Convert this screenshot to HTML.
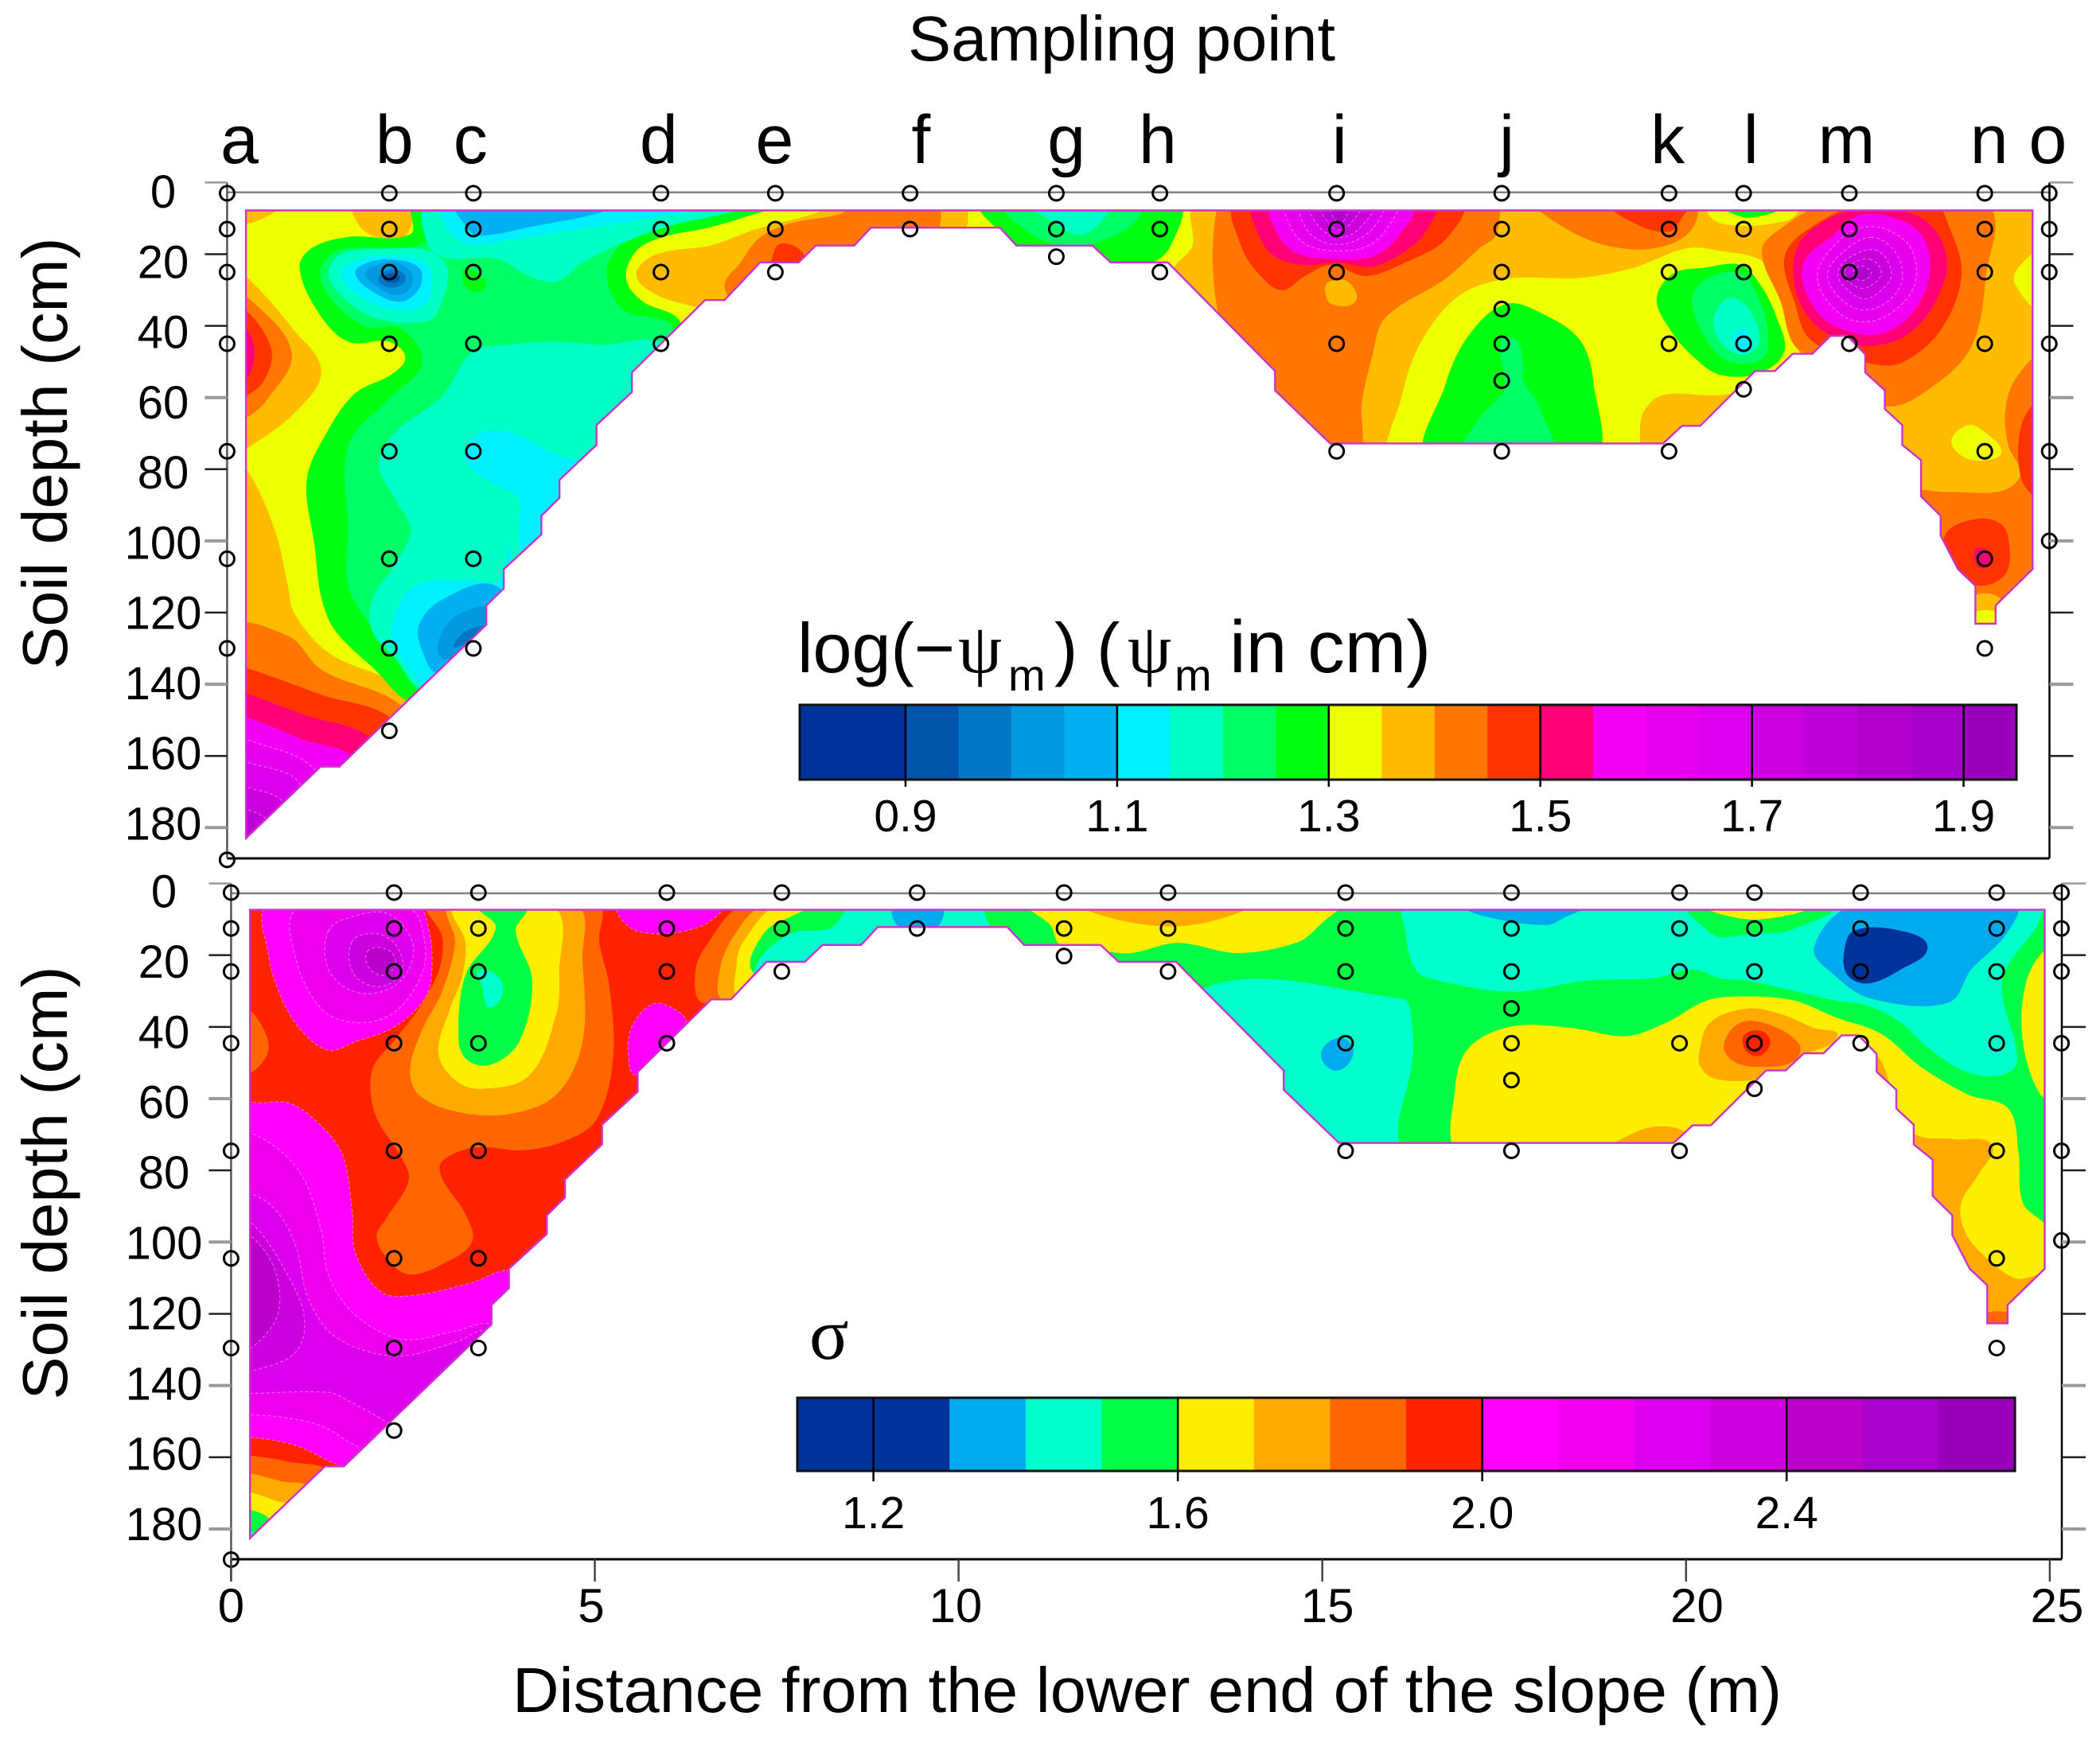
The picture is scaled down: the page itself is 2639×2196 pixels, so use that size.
<!DOCTYPE html>
<html lang="en">
<head>
<meta charset="utf-8">
<title>Soil matric potential and sigma contours along a slope</title>
<style>
html,body{margin:0;padding:0;background:#fff}
svg{display:block}
text{font-family:"Liberation Sans",sans-serif;fill:#000}
.serif{font-family:"Liberation Serif",serif}
</style>
</head>
<body>
<svg id="chart" xmlns="http://www.w3.org/2000/svg" width="2639" height="2196" viewBox="0 0 2639 2196">
  <rect width="2639" height="2196" fill="#fff"/>
  <text x="1141" y="76" font-size="80" textLength="537" lengthAdjust="spacingAndGlyphs">Sampling point</text>
  <text transform="translate(84,570) rotate(-90)" font-size="80" text-anchor="middle" textLength="543" lengthAdjust="spacingAndGlyphs">Soil depth (cm)</text>
  <text transform="translate(84,1487) rotate(-90)" font-size="80" text-anchor="middle" textLength="545" lengthAdjust="spacingAndGlyphs">Soil depth (cm)</text>
  <text x="644" y="2152" font-size="80" textLength="1595" lengthAdjust="spacingAndGlyphs">Distance from the lower end of the slope (m)</text>
  <text font-size="88" y="845"><tspan x="1002">log(−</tspan><tspan x="1204" style="font-family:'Liberation Serif',serif">ψ</tspan><tspan x="1267" y="868" font-size="56">m</tspan><tspan x="1325" y="845">)</tspan><tspan x="1378">(</tspan><tspan x="1417" style="font-family:'Liberation Serif',serif">ψ</tspan><tspan x="1476" y="868" font-size="56">m</tspan><tspan x="1545" y="845" font-size="93">in cm)</tspan></text>
  <text x="1017" y="1708" font-size="92" style="font-family:'Liberation Serif',serif">σ</text>
  <defs id="defs"></defs>
  <g id="layer"></g>
</svg>
<script>
// ---------- sampling layout ----------
const sampleNames = ['a','b','c','d','e','f','g','h','i','j','k','l','m','n','o'];
const sampleDistances = [0,2.24,3.40,5.99,7.57,9.43,11.45,12.88,15.32,17.6,19.91,20.94,22.4,24.27,25.16];
const sampleNameDistances = [0.17,2.31,3.36,5.96,7.56,9.58,11.59,12.85,15.36,17.67,19.89,21.04,22.36,24.33,25.14];
const sampleDepths = [
  [3,13,25,45,75,105,130,189],
  [3,13,25,45,75,105,130,153],
  [3,13,25,45,75,105,130],
  [3,13,25,45],
  [3,13,25],
  [3,13],
  [3,13,20.7],
  [3,13,25],
  [3,13,25,45,75],
  [3,13,25,35.3,45,55.3,75],
  [3,13,25,45,75],
  [3,13,25,45,57.7],
  [3,13,25,45],
  [3,13,25,45,75,105,130],
  [3,13,25,45,75,100]
];
// ---------- axes ----------
const depthTicks = [0,20,40,60,80,100,120,140,160,180];
const distanceTicks = [0,5,10,15,20,25];
const distanceTickLabelAt = [0,4.95,9.96,15.07,20.15,25.1];
// ---------- colour scales ----------
const psiBreaks = [0.8,0.9,0.95,1.0,1.05,1.1,1.15,1.2,1.25,1.3,1.35,1.4,1.45,1.5,1.55,1.6,1.65,1.7,1.75,1.8,1.85,1.9,1.95];
const psiColors = ['#003399','#0055aa','#0077c4','#0099dd','#00b0f0','#00f0ff','#00ffc4','#00ff66','#00ff11','#eeff00','#ffbb00','#ff7700','#ff3300','#ff0077','#f400f4','#e800ee','#dd00ee','#cc00dd','#c000d8','#b400cc','#a800cc','#9900bb'];
const psiBarTicks = [0.9,1.1,1.3,1.5,1.7,1.9];
const sigmaBreaks = [1.1,1.3,1.4,1.5,1.6,1.7,1.8,1.9,2.0,2.1,2.2,2.3,2.4,2.5,2.6,2.7];
const sigmaColors = ['#003399','#00aaee','#00ffcc','#00ff44','#ffee00','#ffaa00','#ff6600','#ff2200','#ff00ff','#ee00ee','#dd00ee','#cc00dd','#bb00cc','#aa00cc','#9900bb'];
const sigmaBarTicks = [1.2,1.6,2.0,2.4];
// ---------- slope outline [distance m, depth cm] ----------
const slopeOutline = [[0.26,7.8],[24.93,7.8],[24.93,107.9],[24.42,118],[24.42,123.1],[24.14,123.1],[24.14,112.5],[23.9,107.9],[23.66,98.5],[23.66,93],[23.39,87.6],[23.39,77.5],[23.13,73.2],[23.13,67.7],[22.89,63.2],[22.89,58],[22.62,53],[22.62,48],[22.37,42.8],[22.14,42.8],[21.89,47.8],[21.62,47.8],[21.37,52.6],[21.1,52.6],[20.34,67.9],[20.09,67.9],[19.83,72.8],[15.23,72.8],[14.47,58],[14.47,52.6],[12.99,22.3],[12.2,22.3],[11.95,17.6],[10.9,17.6],[10.67,12.6],[8.89,12.6],[8.66,17.6],[8.13,17.6],[7.89,22.3],[7.36,22.3],[6.87,32.8],[6.6,32.8],[5.59,53],[5.59,58.5],[5.1,67.7],[5.1,73.2],[4.59,83],[4.59,88],[4.34,93],[4.34,98.2],[3.82,107.9],[3.82,113.3],[3.58,118],[3.58,123.4],[1.55,163],[1.29,163],[0.26,183]];
// ---------- contour bands: [value, [[distance m, depth cm], ...]] painted in order ----------
const psiBaseValue = 1.325;
const psiBands = [
[1.375,[[0.19,6],[0.70,6],[0.43,10.6],[0.19,10.9]]],
[1.375,[[0.01,23.8],[0.26,26.1],[0.91,40.9],[1.30,52.6],[0.93,64.3],[0.26,74.4],[0.01,76.7]]],
[1.425,[[0.01,30],[0.26,31.6],[0.89,47.2],[0.56,60.4],[0.26,65.8],[0.01,67.4]]],
[1.475,[[0.01,34],[0.26,35.5],[0.61,46.4],[0.52,54.9],[0.26,59.6],[0.01,60.4]]],
[1.525,[[0.01,39.4],[0.26,40.9],[0.38,47.2],[0.26,54.9],[0.01,56.5]]],
[1.375,[[0.01,78.3],[0.26,79.8],[0.66,97],[0.84,112.5],[0.93,120.3],[1.4,131.2],[2.6,144.4],[2.6,167],[0.01,167]]],
[1.425,[[0.01,125],[0.84,126.5],[1.3,135.9],[2.51,148.3],[2.41,167],[0.01,167]]],
[1.475,[[0.01,134.3],[0.26,135.4],[1.3,142.9],[2.32,150.7],[2.32,167],[0.01,167]]],
[1.525,[[0.01,141.3],[0.26,142.6],[1.03,148.3],[2.04,156.1],[2.04,170],[0.01,170]]],
[1.575,[[0.01,148.3],[0.26,149.1],[1.03,155.3],[1.77,162.3],[1.3,185.7],[0.01,185.7]]],
[1.625,[[0.01,154.6],[0.26,155.3],[1.26,165.4],[1.12,185.7],[0.01,185.7]]],
[1.675,[[0.01,160.8],[0.26,161.6],[1.03,168.6],[0.84,185.7],[0.01,185.7]]],
[1.725,[[0.01,167.8],[0.26,168.6],[0.8,174],[0.56,185.7],[0.01,185.7]]],
[1.775,[[0.01,174.3],[0.26,174.8],[0.56,178.7],[0.38,185.7],[0.01,185.7]]],
[1.375,[[1.77,6],[1.86,12.9],[2.23,16],[2.46,15.2],[2.53,6]]],
[1.275,[[2.58,6],[2.53,14.4],[1.67,15.2],[1.17,18.3],[1.0,23.8],[1.26,36.3],[1.67,44.4],[2.23,44.4],[2.46,48.7],[2.28,53.4],[1.77,58.8],[1.4,68.9],[1.1,82.9],[1.21,101.6],[1.3,115.7],[1.49,125],[2.04,135.9],[2.55,145.2],[4.26,151.6],[7.04,73.6],[6.25,38.6],[5.74,33.2],[5.51,26.9],[5.65,19.1],[6.02,15.2],[6.58,12.9],[7.13,9.8],[7.59,6]]],
[1.225,[[2.79,6],[2.7,17.1],[1.58,18.7],[1.3,23.8],[1.4,31.6],[1.91,40.1],[2.41,40.9],[2.69,50.4],[2.23,60.4],[1.67,73.6],[1.67,97],[1.67,112.5],[2.04,125],[2.6,135.9],[2.97,151.6],[6.11,73.6],[6.16,40.9],[5.47,35.5],[5.24,25.4],[5.42,17.6],[5.88,12.1],[6.48,9],[7.04,6]]],
[1.175,[[5.98,44.4],[5.19,45.3],[4.54,44.4],[3.89,45.3],[3.39,47.2],[2.97,59.6],[2.32,69.7],[2.09,78.3],[2.32,88.4],[2.53,97],[2.32,106.4],[2.0,116.4],[2.0,125],[2.32,132.8],[2.74,141.3],[5.19,120.3],[7.04,58]]],
[1.175,[[2.78,6],[2.78,17.6],[3.06,21.2],[3.71,21.2],[4.17,26.1],[4.54,27.7],[4.91,22.3],[5.47,16.8],[6.11,12.1],[6.81,9],[7.32,6]]],
[1.125,[[2.99,6],[3.04,12.9],[3.34,17.3],[3.89,16],[4.63,13.7],[5.65,10.6],[6.72,6]]],
[1.075,[[3.15,6],[3.27,11.4],[3.45,14.8],[4.26,12.1],[5.1,8.7],[5.37,6]]],
[1.275,[[3.29,23.8],[3.57,27.7],[3.51,30.4],[3.34,30],[3.25,26.9]]],
[1.175,[[2.28,18.4],[2.78,19.1],[3.04,23.8],[2.97,33.2],[2.78,38.6],[2.04,37.8],[1.58,31.6],[1.4,25.4],[1.58,19.9]]],
[1.125,[[2.32,20.7],[2.74,22.3],[2.83,28.5],[2.74,33.9],[2.32,35.5],[1.81,31.6],[1.58,25.4],[1.81,21.5]]],
[1.075,[[2.28,21.5],[2.65,23.8],[2.66,29.3],[2.41,33.2],[2.04,30.8],[1.77,25.4],[1.95,22.3]]],
[1.025,[[2.32,22.3],[2.55,25.4],[2.51,30],[2.28,31.3],[2.04,28.5],[1.91,25.4],[2.09,23]]],
[0.975,[[2.28,24.1],[2.46,26.1],[2.41,28.5],[2.23,29.3],[2.09,26.9]]],
[0.925,[[2.28,25.4],[2.39,26.9],[2.25,28],[2.16,26.6]]],
[1.125,[[3.29,75.2],[3.52,69.7],[3.99,70.2],[4.54,76],[4.91,79.1],[5.0,89.2],[4.36,101.6],[4.08,103.2],[4.03,95.4],[4.03,88.4],[3.66,83.7],[3.34,79.1]]],
[1.125,[[3.89,100.6],[3.76,111],[3.34,111],[2.6,112.5],[2.28,123.4],[2.41,132.8],[2.88,141.3],[3.89,128.1]]],
[1.075,[[3.71,112.5],[2.97,116.4],[2.65,123.4],[2.69,130.4],[2.92,136.7],[3.89,125]]],
[1.025,[[3.71,118],[3.15,121.1],[2.92,128.1],[2.97,132.8],[3.34,131.2],[3.89,121.9]]],
[0.975,[[3.71,123.1],[3.29,125.3],[3.15,129.6],[3.62,125]]],
[1.375,[[6.95,36.3],[6.3,33.9],[5.88,30.8],[5.65,26.1],[5.79,21.5],[6.11,19.1],[6.67,17.6],[7.32,12.9],[8.06,9],[8.52,6],[10.14,6],[10.14,14.5],[7.96,36.3]]],
[1.425,[[6.87,29.3],[7.09,22.3],[7.36,15.3],[7.78,11.4],[8.43,9],[8.75,6],[9.77,6],[9.77,14.5],[9.07,19.1],[7.96,30],[7.22,36.3]]],
[1.475,[[7.5,22.3],[7.64,17.1],[7.96,19.9],[7.87,23.8],[7.41,25.4]]],
[1.275,[[10.44,6],[10.81,16],[11.37,23.8],[12.2,25.4],[12.76,22.6],[13.03,17.6],[13.12,6]]],
[1.225,[[10.72,6],[11,12.9],[11.37,16.8],[11.83,17.6],[12.2,15.3],[12.52,11.4],[12.63,6]]],
[1.175,[[11.09,6],[11.37,10.6],[11.74,14.5],[12.02,12.1],[12.15,6]]],
[1.375,[[13.36,6],[13.33,17.6],[13.08,25.4],[15.07,89.2],[20,110],[25.25,136],[25.25,6],[14,6]]],
[1.425,[[13.68,6],[13.68,36.3],[14.14,58],[15.07,78.3],[15.6,78.3],[15.67,61.2],[15.81,48.7],[15.99,37.8],[16.82,26.9],[17.29,18.4],[17.52,14.5],[17.49,6],[14,6]]],
[1.375,[[15.21,27.7],[15.48,27.7],[15.58,33.2],[15.25,33.9],[15.16,30]]],
[1.475,[[13.94,6],[14,17.6],[14.24,25.4],[14.56,30],[14.88,26.1],[15.25,23],[15.72,26.1],[16.27,22.3],[16.82,16],[17.03,6]]],
[1.525,[[14.19,6],[14.24,14.5],[14.47,20.7],[14.88,23],[15.35,22.3],[15.81,23.5],[16.27,19.1],[16.55,13.7],[16.66,6]]],
[1.575,[[14.44,6],[14.51,14.5],[14.79,19.9],[15.35,21.5],[15.81,20.7],[16.13,16],[16.35,6]]],
[1.625,[[14.65,6],[14.7,12.9],[14.93,17.6],[15.35,19.1],[15.76,17.6],[16.04,12.1],[16.13,6]]],
[1.675,[[14.84,6],[14.88,12.1],[15.07,16],[15.35,17.3],[15.67,15.3],[15.9,10.6],[15.95,6]]],
[1.725,[[14.98,6],[15.07,12.1],[15.35,15.3],[15.63,12.9],[15.79,6]]],
[1.775,[[15.12,6],[15.21,11.4],[15.35,13.2],[15.51,11.4],[15.63,6]]],
[1.825,[[15.24,6],[15.35,11.4],[15.46,9],[15.44,6]]],
[1.425,[[18.12,6],[18.49,12.9],[19.05,17.6],[19.69,18.4],[20.2,13.7],[20.25,6]]],
[1.475,[[19.14,6],[19.51,12.1],[19.92,13.7],[20.06,10.6],[20.16,6]]],
[1.325,[[16.13,78.3],[16.22,59.6],[16.5,44],[17.01,31.6],[17.66,26.9],[18.68,26.6],[19.42,23.8],[20.15,18.4],[20.62,19.1],[21.22,22.3],[21.45,31.6],[21.65,44],[21.73,54.9],[20.62,59.3],[19.83,59.3],[19.55,64.3],[19.37,78.3]]],
[1.275,[[16.62,78.3],[16.82,56.5],[17.15,42.5],[17.66,33.9],[18.2,37],[18.68,44],[18.86,54.9],[18.82,78.3]]],
[1.225,[[17.05,78.3],[17.29,65.8],[17.62,58],[17.59,44],[17.8,44],[17.9,50.3],[17.89,54.9],[18.12,62.7],[18.26,78.3]]],
[1.275,[[19.74,32.4],[19.97,25.4],[20.39,23.8],[20.9,23],[21.17,28.5],[21.4,37.8],[21.5,47.2],[21.17,53.1],[20.62,53.7],[20.25,48.7],[19.92,40.9]]],
[1.225,[[20.23,33.2],[20.43,26.9],[20.9,25.4],[21.13,31.6],[21.27,40.9],[21.22,48.7],[20.8,50.3],[20.48,45.6]]],
[1.175,[[20.52,39.4],[20.71,32.4],[20.99,34.7],[21.16,44],[20.99,47.9],[20.71,46.4]]],
[1.125,[[20.79,43.3],[20.94,40.9],[21.03,45.6],[20.89,47.5]]],
[1.325,[[20.43,6],[20.62,11.4],[21.54,10.6],[21.71,6]]],
[1.275,[[20.67,6],[20.99,9.8],[21.45,6]]],
[1.425,[[22.1,6],[21.45,12.9],[21.19,19.1],[21.45,33.2],[21.68,46.4],[22.19,48.7],[22.6,53.4],[22.91,62.4],[23.58,56.5],[24.09,45.6],[24.28,26.9],[24.27,6]]],
[1.475,[[22.56,6],[21.73,14.5],[21.5,21.5],[21.64,33.2],[21.87,44],[22.65,50.3],[23.12,50.3],[23.67,40.9],[23.95,25.4],[23.76,11.4],[23.58,6]]],
[1.525,[[22.56,7.5],[22.0,11.4],[21.66,19.1],[21.68,31.6],[22,40.9],[22.65,45.6],[23.3,40.9],[23.72,26.9],[23.67,16],[23.3,9]]],
[1.575,[[22.56,9],[22.19,14.5],[21.77,22.3],[21.82,31.6],[22.14,39.4],[22.75,42.5],[23.21,37.8],[23.5,26.9],[23.44,16],[23.12,10.6]]],
[1.625,[[22.52,12.9],[22.19,17.6],[21.96,25.4],[22.1,33.2],[22.47,38.6],[22.93,37],[23.3,28.5],[23.25,18.4],[22.88,12.9]]],
[1.675,[[22.7,15.3],[22.33,19.1],[22.1,25.4],[22.24,31.6],[22.56,35.5],[22.93,33.2],[23.13,26.9],[23.02,19.1]]],
[1.725,[[22.79,19.1],[22.42,20.7],[22.24,25.4],[22.38,30],[22.61,32.4],[22.84,30],[22.98,25.4]]],
[1.775,[[22.7,21.5],[22.47,22.3],[22.33,25.4],[22.47,28.8],[22.64,29.3],[22.84,25.4]]],
[1.825,[[22.61,23.5],[22.52,23.5],[22.45,25.4],[22.56,27.4],[22.7,25.4]]],
[1.425,[[25.06,48.7],[24.69,54.9],[24.55,64.3],[24.6,73.6],[24.76,81.4],[24.5,86.1],[23.76,86.4],[23.21,87.6],[23.3,104.7],[24.23,125],[25.06,114]]],
[1.475,[[25.06,61.2],[24.78,67.4],[24.78,83],[25.06,87.6]]],
[1.475,[[23.72,98.5],[24.14,93.9],[24.5,95.4],[24.61,101.6],[24.55,109.4],[24.18,112.5],[23.85,107.9]]],
[1.525,[[24.14,102.4],[24.32,103.2],[24.32,107.1],[24.18,107.1]]],
[1.325,[[23.81,72.1],[24.04,67.7],[24.27,69.7],[24.5,75.2],[24.27,77.5],[23.99,76.7]]],
[1.325,[[25.06,19.9],[24.73,23.8],[24.69,28.5],[25.06,34.7]]],
[1.375,[[24.09,115.6],[24.46,115.6],[24.46,120.3],[24.09,120.3]]],
[1.325,[[24.09,120.3],[24.46,120.3],[24.46,125],[24.09,125]]]
];
const sigmaBaseValue = 1.95;
const sigmaBands = [
[1.85,[[0,34.9],[0.23,34.9],[0.49,42.6],[0.49,48],[0.23,53.4],[0,53.4]]],
[2.05,[[0.52,6.2],[0.51,19.4],[0.69,31.8],[0.97,41.1],[1.34,46.5],[1.7,44.2],[2.26,39.8],[2.67,31.8],[2.76,24],[2.72,13.2],[2.55,6.2]]],
[2.15,[[0.92,7],[0.89,20.9],[1.24,34.9],[1.7,38.8],[2.21,36.4],[2.58,27.1],[2.67,17.8],[2.44,7]]],
[2.25,[[1.34,13.2],[1.34,24],[1.7,30.2],[2.16,29.5],[2.44,24],[2.49,16.3],[2.16,8.5],[1.66,9.3]]],
[2.35,[[1.66,16.3],[1.7,25.6],[2.07,28.7],[2.35,24],[2.26,17.1],[1.98,14]]],
[2.45,[[1.89,18.6],[1.89,23.3],[2.09,25.6],[2.26,22.5],[2.16,18.6]]],
[2.05,[[0,61.2],[0.4,61.2],[0.79,61.2],[1.15,65.9],[1.52,75.2],[1.66,90.7],[1.71,103.1],[2.07,114],[2.53,114.8],[3.27,111.6],[3.91,108.5],[4.19,121.7],[2.35,165.1],[1.57,162.8],[0.87,156.6],[0.23,154.3],[0,154.3],[0,66]]],
[2.15,[[0,69],[0.51,72.1],[0.97,81.4],[1.24,96.9],[1.34,109.3],[1.7,120.2],[2.35,127.1],[3.09,124.8],[3.6,123.2],[4.19,137.2],[2.53,158.9],[1.8,157.4],[1.24,151.2],[0.69,148.8],[0.23,148.1],[0,148.1],[0,74]]],
[2.25,[[0,86],[0.51,89.1],[0.87,100],[1.06,115.5],[1.43,126.4],[2.26,131.8],[3.09,127.9],[3.55,124.8],[4.19,137.2],[2.53,157.4],[2.21,151.2],[1.61,144.2],[1.34,141.9],[0.23,142.2],[0,142.2],[0,90]]],
[2.35,[[0,93.8],[0.28,94.6],[0.78,109.3],[1.01,121.7],[0.87,131],[0.28,136],[0,137.2],[0,99]]],
[2.45,[[0,96.9],[0.28,98.4],[0.6,107.8],[0.64,120.2],[0.28,129.5],[0,131],[0,101]]],
[1.85,[[0,158.9],[0.23,159.4],[0.78,161.2],[1.34,165.1],[0.87,183.7],[0,191.5]]],
[1.75,[[0,163.9],[0.23,164.3],[0.69,166.7],[1.06,169],[0.51,188],[0,191.5]]],
[1.65,[[0,169],[0.23,169.5],[0.6,172.1],[0.87,174.4],[0.37,188.4],[0,191.5]]],
[1.55,[[0,174.1],[0.23,174.4],[0.55,178.3],[0.32,186.8],[0,191.5]]],
[1.45,[[0,179],[0.23,180.3],[0.37,182.2],[0,191]]],
[1.85,[[2.72,6.2],[2.9,14.7],[2.86,24],[2.58,34.9],[2.26,43.4],[1.94,52],[1.98,64.3],[2.35,76.7],[2.44,82.9],[2.12,93.8],[2,98.4],[2.15,104.7],[2.44,109],[2.9,106.2],[3.31,100],[3.22,92.2],[2.9,82.2],[2.9,77.5],[3.36,73.6],[4,74.4],[4.55,72.1],[5.02,65.9],[5.25,48.8],[5.2,28.7],[5.06,16.3],[5.04,6.2]]],
[1.75,[[3.01,6.2],[3.08,16.3],[2.9,30.2],[2.62,41.1],[2.46,52],[2.58,58.9],[3.09,63.6],[3.82,64.3],[4.47,58.9],[4.83,44.2],[4.83,21],[4.74,6.2]]],
[1.65,[[3.08,6.2],[3.22,16.3],[3.18,25.6],[3.01,34.9],[2.85,47.3],[3.09,55],[3.45,57.3],[4.1,53.5],[4.47,36.4],[4.51,25.6],[4.42,6.2]]],
[1.55,[[3.41,6.2],[3.64,12.4],[3.22,25.6],[3.13,44.2],[3.27,49.6],[3.59,50.4],[3.96,44.2],[4.14,27.1],[3.91,13.2],[4.05,6.2]]],
[1.45,[[3.41,24],[3.73,27.9],[3.57,34.6],[3.45,28.7]]],
[2.05,[[5.34,6.2],[5.57,13.2],[6.4,12.4],[6.72,6.2]]],
[2.05,[[5.8,33.6],[6.08,34.9],[6.26,38.8],[6.1,48],[5.57,53.5],[5.46,47.3],[5.52,39.5]]],
[1.85,[[7.04,6.2],[6.54,17.1],[6.38,24.8],[6.49,33.3],[7.87,33.3],[8.43,6.2]]],
[1.75,[[7.32,6.2],[6.91,14.7],[6.72,24],[6.77,32.6],[7.87,32.6],[8.43,6.2]]],
[1.65,[[7.5,6.2],[7.04,16.3],[6.95,22.2],[7,32.6],[7.87,32.6],[8.24,6.2]]],
[1.55,[[8.1,6.2],[7.69,9.3],[7.32,14],[7.18,24.8],[7.87,24.8],[8.4,18],[8.9,6.2]]],
[1.45,[[8.56,6.2],[8.24,12.4],[7.69,14],[7.23,22.5],[7.23,35],[10.82,35],[10.45,6.2]]],
[1.35,[[9.12,6.2],[9.21,12.7],[9.67,12.7],[9.76,6.2]]],
[1.55,[[10.39,6.2],[10.55,17],[10.64,44],[14,120],[25.4,200],[25.4,6.2],[11,6.2]]],
[1.65,[[10.97,6.2],[11.26,11.6],[11.4,17.1],[11.9,18.6],[12.37,19.4],[13.01,16.6],[13.84,19.4],[14.67,16.3],[15,10.9],[15.22,6.2]]],
[1.75,[[11.72,6.2],[12.18,10.1],[12.92,12],[13.56,10.1],[13.97,6.2]]],
[1.45,[[13.1,32.1],[16.1,32.1],[16.23,38.8],[16.23,50.4],[16.05,65.9],[15.94,78.3],[14.95,78.3],[14.3,56.6]]],
[1.35,[[14.98,47.6],[15.24,43],[15.43,47],[15.2,52.2]]],
[1.45,[[24.87,6.2],[24.83,11.6],[24.45,22],[24.34,28],[24.39,35.3],[24.52,44.2],[24.52,51.2],[24.2,53.8],[23.78,51.9],[23.32,45.7],[22.95,38.8],[22.5,34.1],[22.04,32.6],[21.39,29.5],[20.84,27.1],[20.47,26.4],[20.1,24],[19.55,26.4],[18.63,27.1],[17.62,30.2],[16.6,27.1],[16.28,24],[16.14,13.2],[16.14,6.2],[17,6.2]]],
[1.55,[[20.03,6.2],[20.3,13.2],[20.47,15],[20.95,13.9],[21.41,13.2],[22,6.2]]],
[1.65,[[20.33,6.2],[20.93,10.1],[21.62,6.2]]],
[1.35,[[16.93,6.2],[17.25,9.3],[18.08,11.6],[18.35,9.3],[18.63,6.2]]],
[1.35,[[22.31,6.2],[21.76,17.8],[22.04,25.6],[22.54,32.1],[23.6,33.3],[23.92,24],[24.38,14.7],[24.52,6.2]]],
[1.2,[[22.17,19.4],[22.31,13.2],[22.95,13.2],[23.32,17.8],[22.95,24],[22.5,27.9],[22.22,25.6]]],
[1.65,[[16.93,75.2],[16.83,56.6],[17.02,45.7],[17.62,39.8],[18.44,40.3],[19.18,42.6],[19.73,38.8],[20.29,32.6],[20.84,31.5],[21.48,32.6],[22.04,37.2],[22.68,41.9],[23.23,51.2],[23.88,58.9],[24.43,62.8],[24.57,75.2],[24.63,89.1],[24.98,96.9],[24.98,121.7],[23.23,121.7],[21.39,75.2]]],
[1.75,[[18.99,73.6],[19.26,69.8],[19.58,67.8],[19.96,69],[20.1,73.6]]],
[1.75,[[20.18,47.3],[20.33,38.8],[20.84,34.9],[21.3,36.4],[21.76,40.3],[22.08,42.6],[21.62,48],[21.34,52.7],[20.84,55],[20.38,54.3],[20.2,51.2]]],
[1.85,[[20.52,45],[20.75,38.8],[21.16,39.5],[21.56,45],[21.48,49.6],[21.02,51.2],[20.65,49.6]]],
[1.95,[[20.79,42.6],[21.02,41.1],[21.16,44.2],[21.02,48],[20.84,47]]],
[1.75,[[22.59,47.3],[22.88,61.2],[23.14,69.8],[23.69,71.3],[24.2,72.9],[24.01,81.4],[23.78,89.2],[23.83,96.9],[24.06,103.1],[24.52,110.1],[24.98,110.1],[24.89,121.7],[23.97,124.8],[23.23,106.2],[22.13,48.8]]],
[1.85,[[24.06,120.2],[24.52,120.2],[24.52,124],[24.06,124]]],
[1.65,[[24.89,19.4],[24.66,28.7],[24.63,44.2],[24.87,58.9],[25.07,58.9],[25.07,19.4]]]
];

// ---------- axis functions for both panels ----------
const psiX = m => 285.4 + 91.01 * m;
const psiY = d => 229.4 + 4.505 * d;
const sigmaX = m => 290.4 + 91.42 * m;
const sigmaY = d => 1110.5 + 4.508 * d;
const sigmaSampleShift = -0.45;
const psiBarX = v => 1005 + 1329.6 * (v - 0.8);
const sigmaBarX = v => 1002 + 956.3 * (v - 1.1);

const NS = 'http://www.w3.org/2000/svg';
const layer = document.getElementById('layer');
const defs = document.getElementById('defs');

function add(parent, tag, name, props, content) {
  const el = document.createElementNS(NS, tag);
  
  
  for (const k in props) el.setAttribute(k, props[k]);
  if (content !== undefined) el.textContent = content;
  parent.appendChild(el);
  return el;
}
function colorFor(value, breaks, colors) {
  for (let i = 0; i < colors.length; i++) if (value < breaks[i + 1]) return colors[i];
  return colors[colors.length - 1];
}
// closed smooth curve; control arms limited to a third of each segment so long edges never overshoot
function unit(a, b) {
  const dx = b[0] - a[0], dy = b[1] - a[1], l = Math.hypot(dx, dy) || 1;
  return [dx / l, dy / l];
}
function smoothPath(points) {
  const n = points.length;
  let out = 'M' + points[0][0].toFixed(1) + ' ' + points[0][1].toFixed(1);
  for (let i = 0; i < n; i++) {
    const p0 = points[(i - 1 + n) % n], p1 = points[i], p2 = points[(i + 1) % n], p3 = points[(i + 2) % n];
    const len = Math.hypot(p2[0] - p1[0], p2[1] - p1[1]) / 3;
    const t1 = unit(p0, p2), t2 = unit(p1, p3);
    const c1x = p1[0] + t1[0] * len, c1y = p1[1] + t1[1] * len;
    const c2x = p2[0] - t2[0] * len, c2y = p2[1] - t2[1] * len;
    out += 'C' + c1x.toFixed(1) + ' ' + c1y.toFixed(1) + ' ' + c2x.toFixed(1) + ' ' + c2y.toFixed(1) + ' ' + p2[0].toFixed(1) + ' ' + p2[1].toFixed(1);
  }
  return out + 'Z';
}
function drawPanel(id, X, Y, opts) {
  const g = add(layer, 'g', id + '-panel', {});
  // contour bands clipped by the slope outline
  const shift = opts.shift;
  const outline = slopeOutline.map(p => X(p[0]).toFixed(1) + ',' + Y(p[1] + shift).toFixed(1)).join(' ');
  const clip = add(defs, 'clipPath', id + '-clip', { id: id + '-clip' });
  add(clip, 'polygon', id + '-clip-shape', { points: outline });
  const field = add(g, 'g', id + '-contour-field', { 'clip-path': 'url(#' + id + '-clip)' });
  add(field, 'rect', id + '-base-band', { x: 250, y: Y(0), width: 2400, height: Y(190) - Y(0), fill: colorFor(opts.base, opts.breaks, opts.colors) });
  opts.bands.forEach(band => {
    const pts = band[1].map(p => [X(p[0]), Y(p[1])]);
    const props = { d: smoothPath(pts), fill: colorFor(band[0], opts.breaks, opts.colors) };
    if (band[0] >= opts.lineFrom) {
      props.stroke = 'rgba(255,255,255,.38)';
      props['stroke-width'] = 1.2;
      props['stroke-dasharray'] = '4 3';
    }
    add(field, 'path', id + '-contour-band', props);
  });
  add(g, 'polygon', id + '-slope-outline', { points: outline, fill: 'none', stroke: '#cc33cc', 'stroke-width': 2.4 });

  // frame
  const L = X(0), R = opts.right, T = Y(0) + 12.4, B = opts.bottom;
  add(g, 'line', id + '-frame-top', { x1: L, x2: R, y1: T, y2: T, stroke: '#808080', 'stroke-width': 2.5 });
  add(g, 'line', id + '-frame-bottom', { x1: L, x2: R, y1: B, y2: B, stroke: '#000', 'stroke-width': 3 });
  add(g, 'line', id + '-frame-left', { x1: L, x2: L, y1: Y(0), y2: opts.leftEnd, stroke: '#555', 'stroke-width': 2.5 });
  add(g, 'line', id + '-frame-right', { x1: R, x2: R, y1: Y(0), y2: B, stroke: '#000', 'stroke-width': 2.5 });

  // depth ticks and labels
  depthTicks.forEach((t, i) => {
    const heavy = [60, 100, 140, 180].includes(t);
    const col = heavy || t === 0 ? '#9a9a9a' : '#222';
    const w = heavy ? 4 : 2.5;
    add(g, 'line', id + '-depth-tick-left', { x1: L - 28, x2: L, y1: Y(t), y2: Y(t), stroke: col, 'stroke-width': w });
    add(g, 'line', id + '-depth-tick-right', { x1: R, x2: R + 30, y1: Y(t), y2: Y(t), stroke: col, 'stroke-width': w });
    add(g, 'text', id + '-depth-tick-label', { x: opts.labelX, y: opts.labelBase + opts.labelStep * i, 'font-size': 58, 'text-anchor': 'middle' }, String(t));
  });

  // sampling points
  sampleDistances.forEach((m, c) => {
    sampleDepths[c].forEach(d => {
      add(g, 'circle', id + '-sampling-point-' + sampleNames[c], { cx: X(m), cy: Y(d + shift), r: 9, fill: 'none', stroke: '#000', 'stroke-width': 3 });
    });
  });
}
function drawBar(id, barX, breaks, colors, ticks, top, bottom, tickEnd, labelY) {
  const g = add(layer, 'g', id + '-colorbar', {});
  colors.forEach((c, i) => {
    add(g, 'rect', id + '-colorbar-band', { x: barX(breaks[i]), y: top, width: barX(breaks[i + 1]) - barX(breaks[i]) + 0.6, height: bottom - top, fill: c });
  });
  add(g, 'rect', id + '-colorbar-outline', { x: barX(breaks[0]), y: top, width: barX(breaks[breaks.length - 1]) - barX(breaks[0]), height: bottom - top, fill: 'none', stroke: '#111', 'stroke-width': 3 });
  ticks.forEach(v => {
    add(g, 'line', id + '-colorbar-tick', { x1: barX(v), x2: barX(v), y1: top, y2: tickEnd, stroke: '#000', 'stroke-width': 2.5 });
    add(g, 'text', id + '-colorbar-label', { x: barX(v), y: labelY, 'font-size': 57, 'text-anchor': 'middle' }, v.toFixed(1));
  });
}

drawPanel('psi', psiX, psiY, { shift: 0, base: psiBaseValue, bands: psiBands, breaks: psiBreaks, colors: psiColors, lineFrom: 1.6, right: 2575.5, bottom: 1079, leftEnd: 1079, labelX: 205, labelBase: 261, labelStep: 88.25 });
drawPanel('sigma', sigmaX, sigmaY, { shift: sigmaSampleShift, base: sigmaBaseValue, bands: sigmaBands, breaks: sigmaBreaks, colors: sigmaColors, lineFrom: 2.05, right: 2591, bottom: 1960, leftEnd: 1988, labelX: 206, labelBase: 1140.5, labelStep: 88.4 });
drawBar('psi', psiBarX, psiBreaks, psiColors, psiBarTicks, 886, 980, 989, 1045);
drawBar('sigma', sigmaBarX, sigmaBreaks, sigmaColors, sigmaBarTicks, 1757, 1849, 1862, 1921);

// sampling point letters
sampleNames.forEach((s, i) => {
  add(layer, 'text', 'sampling-point-letter-' + s, { x: psiX(sampleNameDistances[i]), y: 205, 'font-size': 86, 'text-anchor': 'middle' }, s);
});
// distance axis
distanceTicks.forEach((t, i) => {
  add(layer, 'line', 'distance-tick', { x1: sigmaX(t), x2: sigmaX(t), y1: 1960, y2: 1988, stroke: '#444', 'stroke-width': 2.5 });
  add(layer, 'text', 'distance-tick-label', { x: sigmaX(distanceTickLabelAt[i]), y: 2039, 'font-size': 60, 'text-anchor': 'middle' }, String(t));
});
</script>
</body>
</html>
